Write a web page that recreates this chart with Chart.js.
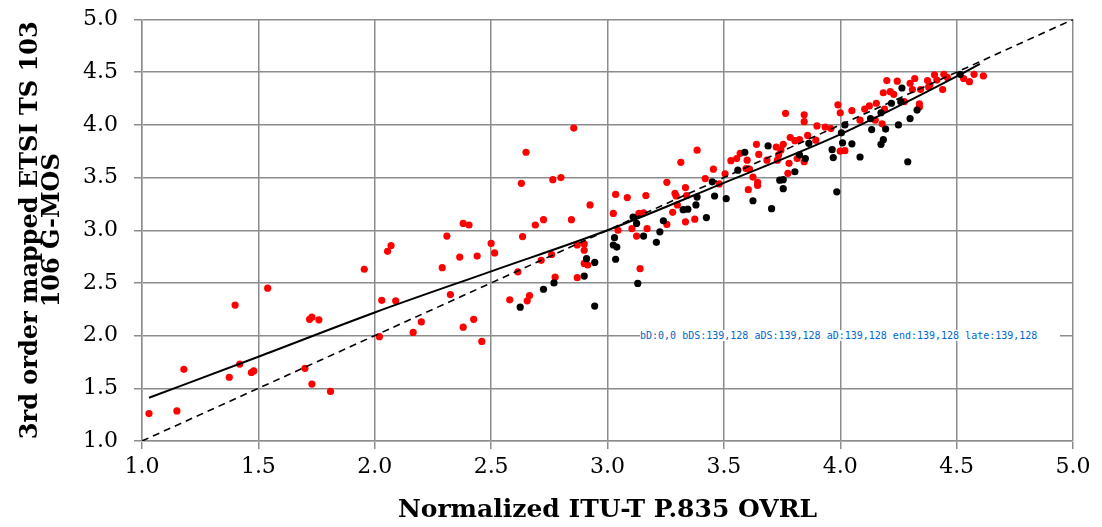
<!DOCTYPE html>
<html>
<head>
<meta charset="utf-8">
<script src="https://cdn.jsdelivr.net/npm/chart.js@4.4.0/dist/chart.umd.min.js"></script>
<style>
  html, body { margin: 0; padding: 0; background: #fff; }
  #dbg { position: absolute; left: 640px; top: 330px; width: 420px; font: 10px monospace; color: #06c; background: #fff; word-break: break-all; }
</style>
</head>
<body>
<canvas id="mosChart" width="1102" height="527"></canvas>
<div id="dbg"></div>
<script>
const redX = [1.03, 1.15, 1.18, 1.375, 1.40, 1.42, 1.47, 1.48, 1.54, 1.70, 1.72, 1.73, 1.73, 1.76, 1.81,
  1.955, 2.02, 2.03, 2.055, 2.07, 2.09, 2.165, 2.20, 2.29, 2.31, 2.325, 2.365, 2.38, 2.38, 2.405, 2.425,
  2.44, 2.46, 2.50, 2.515, 2.58, 2.615, 2.63, 2.635, 2.65, 2.655, 2.665, 2.69, 2.715, 2.725, 2.76, 2.765,
  2.775, 2.80, 2.845, 2.855, 2.87, 2.87, 2.90, 2.90, 2.90, 2.915, 2.925, 3.025, 3.035, 3.045, 3.085,
  3.105, 3.125, 3.135, 3.14, 3.155, 3.165, 3.17, 3.255, 3.255, 3.28, 3.29, 3.295, 3.30, 3.315, 3.335,
  3.34, 3.335, 3.375, 3.385, 3.42, 3.455, 3.48, 3.505, 3.53, 3.555, 3.57, 3.60, 3.595, 3.61, 3.625,
  3.64, 3.65, 3.605, 3.645, 3.645, 3.685, 3.725, 3.735, 3.73, 3.745, 3.755, 3.765, 3.78, 3.775, 3.785,
  3.805, 3.825, 3.815, 3.845, 3.845, 3.845, 3.86, 3.895, 3.90, 3.935, 3.96, 3.99, 4.00, 4.00, 4.02,
  4.05, 4.085, 4.105, 4.125, 4.155, 4.15, 4.18, 4.19, 4.20, 4.185, 4.215, 4.23, 4.245, 4.275, 4.30,
  4.31, 4.32, 4.34, 4.34, 4.345, 4.375, 4.385, 4.38, 4.405, 4.415, 4.445, 4.44, 4.46, 4.53, 4.555,
  4.575, 4.615];
const redY = [1.26, 1.285, 1.68, 1.605, 2.29, 1.73, 1.65, 1.665, 2.45, 1.69, 2.155, 2.175, 1.54, 2.15, 1.47,
  2.63, 1.99, 2.335, 2.80, 2.855, 2.33, 2.03, 2.13, 2.645, 2.945, 2.39, 2.745, 3.065, 2.08, 3.05, 2.155,
  2.755, 1.945, 2.875, 2.785, 2.34, 2.605, 3.445, 2.94, 3.74, 2.33, 2.38, 3.05, 2.715, 3.10, 2.77, 3.48,
  2.555, 3.50, 3.10, 3.97, 2.86, 2.55, 2.87, 2.81, 2.685, 2.67, 3.24, 3.16, 3.34, 3.00, 3.31,
  3.015, 2.945, 3.16, 2.635, 3.165, 3.33, 3.015, 3.055, 3.455, 3.17, 3.35, 3.325, 3.24, 3.645, 3.405,
  3.33, 3.08, 3.105, 3.76, 3.49, 3.58, 3.44, 3.535, 3.66, 3.68, 3.73, 3.665, 3.585, 3.58, 3.505,
  3.815, 3.72, 3.385, 3.455, 3.425, 3.665, 3.79, 3.715, 3.665, 3.76, 3.815, 4.11, 3.635, 3.54, 3.88,
  3.85, 3.86, 3.68, 4.095, 4.03, 3.65, 3.90, 3.855, 3.99, 3.98, 3.965, 4.19, 4.115, 3.75, 3.755,
  4.135, 4.045, 4.15, 4.18, 4.205, 4.045, 4.01, 4.15, 4.42, 4.305, 4.315, 4.29, 4.415, 4.22, 4.395,
  4.335, 4.44, 4.17, 4.20, 4.335, 4.42, 4.38, 4.36, 4.475, 4.425, 4.48, 4.335, 4.45, 4.44, 4.41,
  4.48, 4.465];

const blackX = [2.625, 2.725, 2.77, 2.91, 2.90, 2.945, 2.945, 3.03, 3.025, 3.04, 3.035, 3.11, 3.125, 3.155,
  3.13, 3.21, 3.225, 3.24, 3.325, 3.345, 3.38, 3.385, 3.425, 3.46, 3.45, 3.51, 3.56, 3.59, 3.625, 3.69,
  3.705, 3.74, 3.755, 3.755, 3.805, 3.825, 3.85, 3.865, 3.965, 3.97, 3.985, 4.02, 4.005, 4.01, 4.05,
  4.085, 4.13, 4.135, 4.175, 4.195, 4.185, 4.175, 4.22, 4.25, 4.265, 4.26, 4.29, 4.30, 4.33, 4.515];
const blackY = [2.27, 2.44, 2.50, 2.73, 2.565, 2.695, 2.28, 2.93, 2.86, 2.84, 2.725, 3.125, 3.065, 2.945,
  2.495, 2.885, 2.985, 3.09, 3.195, 3.20, 3.24, 3.315, 3.12, 3.325, 3.46, 3.30, 3.57, 3.74, 3.28, 3.80,
  3.205, 3.475, 3.48, 3.395, 3.555, 3.715, 3.68, 3.825, 3.765, 3.69, 3.365, 4.00, 3.925, 3.83, 3.82,
  3.695, 4.06, 3.955, 4.115, 3.96, 3.86, 3.815, 4.205, 4.00, 4.35, 4.22, 3.65, 4.06, 4.14, 4.48];

const fitX = [1.03, 1.5, 2.0, 2.5, 3.0, 3.5, 4.0, 4.5, 4.6];
const fitY = [1.41, 1.80, 2.22, 2.61, 3.00, 3.45, 3.91, 4.46, 4.58];
const diagX = [1.0, 5.0];
const diagY = [1.0, 5.0];

const xTitle = 'Normalized ITU-T P.835 OVRL';
const yTitleLines = ['3rd order mapped ETSI TS 103', '106 G-MOS'];

const gridGray = '#8c8c8c';
const serif = "'DejaVu Serif', 'Liberation Serif', serif";
const log = [];

function pairs(xs, ys) {
  return xs.map((x, i) => ({ x: x, y: ys[i] }));
}

function sample(chart, tag) {
  const px = Math.round(chart.scales.x.getPixelForValue(2));
  const d = chart.ctx.getImageData(px, 100, 1, 1).data;
  log.push(tag + ':' + d[0] + ',' + d[3]);
}

const probe = {
  id: 'probe',
  beforeDraw(chart) { sample(chart, 'bD'); },
  beforeDatasetsDraw(chart) { sample(chart, 'bDS'); },
  afterDatasetsDraw(chart) { sample(chart, 'aDS'); },
  afterDraw(chart) { sample(chart, 'aD'); }
};

const ctx = document.getElementById('mosChart').getContext('2d');
const chart = new Chart(ctx, {
  type: 'scatter',
  data: {
    datasets: [
      { label: 'fit', data: pairs(fitX, fitY), showLine: true, borderColor: '#000', borderWidth: 2, pointRadius: 0, tension: 0.4, cubicInterpolationMode: 'monotone' },
      { label: 'y = x', data: pairs(diagX, diagY), showLine: true, borderColor: '#000', borderWidth: 1.6, borderDash: [7, 5], pointRadius: 0 },
      { label: 'black', data: pairs(blackX, blackY), backgroundColor: '#000', borderWidth: 0, pointRadius: 3.6 },
      { label: 'red', data: pairs(redX, redY), backgroundColor: '#ff0000', borderWidth: 0, pointRadius: 3.6 }
    ]
  },
  options: {
    responsive: false,
    animation: false,
    layout: { padding: { top: 19.5, right: 29, left: 0, bottom: 0 } },
    plugins: { legend: { display: false }, tooltip: { enabled: false } },
    scales: {
      x: {
        type: 'linear', min: 1, max: 5,
        ticks: { stepSize: 0.5, callback: v => v.toFixed(1), font: { family: serif, size: 22 }, color: '#000', padding: 5, maxRotation: 0 },
        grid: { color: gridGray, lineWidth: 1.5, tickLength: 8 },
        title: { display: true, text: xTitle, color: '#000', font: { family: serif, size: 25, weight: 'bold' }, padding: { top: 0, bottom: 2 } },
        afterFit(scale) { scale.height = 86; }
      },
      y: {
        type: 'linear', min: 1, max: 5,
        ticks: { stepSize: 0.5, callback: v => v.toFixed(1), font: { family: serif, size: 22 }, color: '#000', padding: 16 },
        grid: { color: gridGray, lineWidth: 1.5, tickLength: 8 },
        title: { display: true, text: yTitleLines, color: '#000', font: { family: serif, size: 24, weight: 'bold', lineHeight: 0.92 }, padding: { top: 20, bottom: 0 } },
        afterFit(scale) { scale.width = 142; scale.paddingTop = 0; scale.paddingBottom = 0; }
      }
    }
  },
  plugins: [probe]
});

sample(chart, 'end');
setTimeout(() => {
  sample(chart, 'late');
  document.getElementById('dbg').textContent = log.join(' ');
}, 300);
document.getElementById('dbg').textContent = log.join(' ');
</script>
</body>
</html>
